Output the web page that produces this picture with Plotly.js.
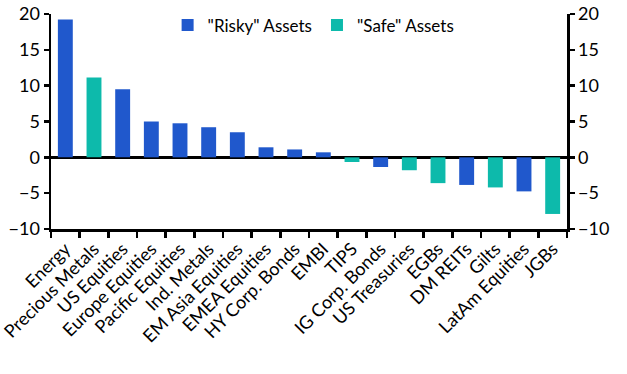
<!DOCTYPE html>
<html>
<head>
<meta charset="utf-8">
<script src="https://cdn.plot.ly/plotly-3.0.1.min.js"></script>
<style>html,body{margin:0;padding:0;background:#fff;}#chart{width:627px;height:374px;}</style>
</head>
<body>
<div id="chart"></div>
<script>
const categories = ["Energy","Precious Metals","US Equities","Europe Equities","Pacific Equities","Ind. Metals","EM Asia Equities","EMEA Equities","HY Corp. Bonds","EMBI","TIPS","IG Corp. Bonds","US Treasuries","EGBs","DM REITs","Gilts","LatAm Equities","JGBs"];
const values = [19.25,11.15,9.5,5.0,4.75,4.2,3.5,1.4,1.1,0.7,-0.65,-1.35,-1.8,-3.6,-3.85,-4.2,-4.75,-7.9];
const assetType = ["risky","safe","risky","risky","risky","risky","risky","risky","risky","risky","safe","risky","safe","safe","risky","safe","risky","safe"];
const seriesNames = {risky:'"Risky" Assets', safe:'"Safe" Assets'};
const colors = {risky:"#2058cc", safe:"#0dbaab"};

const traces = ["risky","safe"].map(t => ({
  type: "bar",
  name: seriesNames[t],
  x: categories,
  y: values.map((v,i) => assetType[i] === t ? v : null),
  marker: {color: colors[t]},
  width: 0.52,
  hoverinfo: "x+y"
}));

const font = {family: "Lato, Open Sans, sans-serif", size: 17, color: "#000"};
const layout = {
  width: 627, height: 374,
  margin: {l: 51, r: 60, t: 14, b: 145, autoexpand: false},
  paper_bgcolor: "#fff", plot_bgcolor: "#fff",
  font: font,
  barmode: "relative",
  showlegend: true,
  legend: {orientation: "h", x: 0.226, y: 1.03, xanchor: "left", yanchor: "top", font: {size: 17}, bgcolor: "rgba(0,0,0,0)", itemwidth: 30},
  xaxis: {
    type: "category", automargin: false, range: [-0.5, categories.length - 0.5],
    showline: true, linecolor: "#000", linewidth: 2.5,
    ticks: "outside", tickson: "boundaries", ticklen: 6, tickwidth: 2.5, tickcolor: "#000",
    tickangle: -45, tickfont: {size: 18},
    showgrid: false, zeroline: false, anchor: "y", position: 0
  },
  yaxis: {
    range: [-10, 20], dtick: 5, automargin: false,
    showline: true, linecolor: "#000", linewidth: 2.5,
    ticks: "outside", ticklen: 5, tickwidth: 2.5, tickcolor: "#000",
    showgrid: false, zeroline: true, zerolinecolor: "#000", zerolinewidth: 2.5,
    tickfont: {size: 18}
  },
  yaxis2: {
    range: [-10, 20], dtick: 5, overlaying: "y", side: "right", automargin: false,
    showline: true, linecolor: "#000", linewidth: 2.5,
    ticks: "outside", ticklen: 5, tickwidth: 2.5, tickcolor: "#000",
    showgrid: false, zeroline: false, tickfont: {size: 18}
  }
};
traces.push({type:"scatter", mode:"none", x:[categories[0]], y:[null], yaxis:"y2", showlegend:false, hoverinfo:"skip"});
Plotly.newPlot("chart", traces, layout, {displayModeBar: false, staticPlot: true});
</script>
</body>
</html>
